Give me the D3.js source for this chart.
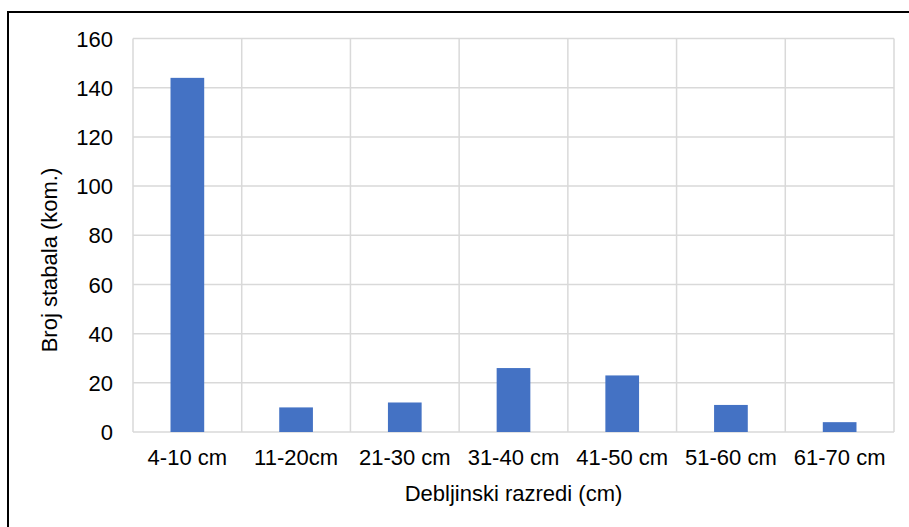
<!DOCTYPE html>
<html><head><meta charset="utf-8">
<script src="https://cdn.jsdelivr.net/npm/d3@7"></script>
<style>body{margin:0;background:#fff}svg{display:block}</style>
</head><body>
<script>
const categories = ["4-10 cm","11-20cm","21-30 cm","31-40 cm","41-50 cm","51-60 cm","61-70 cm"];
const values = [144, 10, 12, 26, 23, 11, 4];
const yTicks = [0,20,40,60,80,100,120,140,160];
const xTitle = "Debljinski razredi (cm)";
const yTitle = "Broj stabala (kom.)";

const W = 909, H = 527;
const m = {left:133, right:909-894, top:38.5, bottom:527-432};
const svg = d3.select("body").append("svg").attr("width",W).attr("height",H);
svg.append("rect").attr("x",8).attr("y",12).attr("width",W+10).attr("height",H+10)
  .attr("fill","none").attr("stroke","#000").attr("stroke-width",2);

const x = d3.scaleBand().domain(categories).range([m.left, W-m.right]).paddingInner(0).paddingOuter(0);
const y = d3.scaleLinear().domain([0,160]).range([H-m.bottom, m.top]);
const font = "'Liberation Sans', Arial, sans-serif";
const fs = 22;

const g = svg.append("g");
g.selectAll(".hg").data(yTicks).join("line")
  .attr("x1",m.left).attr("x2",W-m.right).attr("y1",d=>y(d)).attr("y2",d=>y(d))
  .attr("stroke","#d9d9d9").attr("stroke-width",1.5);
const vx = categories.map(c=>x(c)).concat([x(categories[categories.length-1])+x.bandwidth()]);
g.selectAll(".vg").data(vx).join("line")
  .attr("x1",d=>d).attr("x2",d=>d).attr("y1",m.top).attr("y2",H-m.bottom)
  .attr("stroke","#d9d9d9").attr("stroke-width",1.5);

const bw = x.bandwidth()*0.31;
svg.selectAll(".bar").data(values).join("rect")
  .attr("x",(d,i)=>x(categories[i])+x.bandwidth()/2-bw/2)
  .attr("width",bw)
  .attr("y",d=>y(d)).attr("height",d=>y(0)-y(d))
  .attr("fill","#4472C4");

const ya = svg.append("g").attr("transform",`translate(${m.left},0)`)
  .call(d3.axisLeft(y).tickValues(yTicks).tickSize(0).tickPadding(20));
ya.select(".domain").remove();
ya.attr("font-size",fs).attr("font-family",font);
ya.selectAll("text").attr("fill","#000").attr("dy","0.35em");

const xa = svg.append("g").attr("transform",`translate(0,${H-m.bottom})`)
  .call(d3.axisBottom(x).tickSize(0).tickPadding(0));
xa.select(".domain").remove();
xa.attr("font-size",fs).attr("font-family",font);
xa.selectAll("text").attr("fill","#000").attr("dy",0).attr("y",33);

svg.append("text").attr("x",(m.left+W-m.right)/2).attr("y",501)
  .attr("text-anchor","middle").attr("font-family",font).attr("font-size",fs).text(xTitle);
svg.append("text").attr("transform",`translate(57,260) rotate(-90)`)
  .attr("text-anchor","middle").attr("font-family",font).attr("font-size",fs).text(yTitle);
</script>
</body></html>
